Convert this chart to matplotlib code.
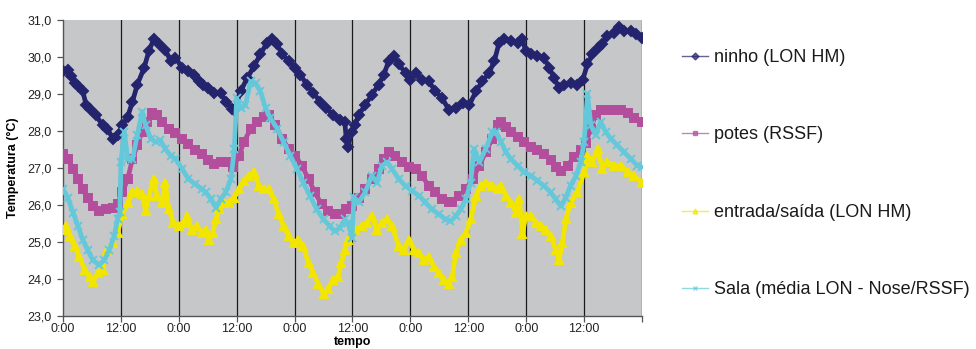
import matplotlib
matplotlib.use("Agg")
import matplotlib.pyplot as plt

plt.rcParams['font.family'] = ['Liberation Sans', 'DejaVu Sans']

# ---- data (hours since start, temperature in degC) ----
ninho_t = [0, 1.0, 1.7, 2.4, 3.1, 4.1, 4.8, 5.5, 6.8, 8.2, 9.2, 10.3, 11.3, 12.3, 13.4, 14.4, 15.4, 16.8,
           17.8, 18.8, 19.9, 21.2, 22.3, 23.3, 24.7, 26.0, 27.1, 28.1, 29.1, 30.0, 31.3, 32.7, 33.7, 35.1,
           35.5, 36.8, 38.2, 39.6, 40.9, 42.3, 43.3, 44.4, 45.4, 46.8, 48.1, 49.2, 50.5, 51.9, 53.3, 54.6,
           56.0, 57.4, 58.4, 58.7, 59.1, 59.8, 60.5, 61.3, 62.6, 64.0, 65.4, 66.5, 67.5, 68.5, 69.6, 71.0,
           72.0, 73.1, 74.4, 75.8, 77.2, 78.6, 80.0, 81.4, 82.8, 84.2, 85.6, 86.9, 88.3, 89.4, 90.4, 91.4,
           92.8, 94.2, 95.2, 95.9, 97.0, 98.3, 99.7, 100.8, 101.8, 102.8, 103.9, 105.2, 106.6, 107.7, 108.7,
           109.7, 110.8, 111.8, 112.8, 114.2, 115.2, 116.3, 117.7, 118.7, 120.0]
ninho_v = [29.61, 29.65, 29.48, 29.29, 29.20, 29.07, 28.70, 28.60, 28.43, 28.15, 28.06, 27.79, 27.88, 28.15,
           28.38, 28.79, 29.25, 29.70, 30.16, 30.48, 30.34, 30.20, 29.89, 29.98, 29.70, 29.61, 29.52, 29.34,
           29.25, 29.15, 29.02, 29.02, 28.79, 28.60, 28.56, 29.07, 29.43, 29.75, 30.07, 30.39, 30.48, 30.34,
           30.07, 29.89, 29.70, 29.52, 29.25, 29.02, 28.79, 28.61, 28.43, 28.29, 28.24, 27.79, 27.56, 27.97,
           28.15, 28.43, 28.70, 28.97, 29.25, 29.52, 29.89, 30.02, 29.80, 29.57, 29.38, 29.57, 29.38, 29.34,
           29.07, 28.88, 28.56, 28.61, 28.75, 28.70, 29.07, 29.34, 29.57, 29.89, 30.39, 30.48, 30.43, 30.39,
           30.48, 30.16, 30.07, 30.02, 29.98, 29.70, 29.43, 29.16, 29.25, 29.29, 29.25, 29.38, 29.80, 30.07,
           30.25, 30.34, 30.57, 30.66, 30.80, 30.71, 30.71, 30.62, 30.52]

potes_t = [0, 1.0, 2.1, 3.1, 4.1, 5.1, 6.2, 7.5, 8.9, 10.3, 11.3, 12.3, 13.4, 14.4, 15.4, 16.4, 17.5, 18.5,
           19.5, 20.5, 21.9, 23.3, 24.7, 26.0, 27.4, 28.8, 30.0, 31.3, 32.7, 34.1, 35.3, 36.5, 37.5, 38.9,
           40.2, 41.6, 42.6, 44.0, 45.4, 46.8, 48.1, 49.5, 50.9, 52.2, 53.6, 55.0, 56.3, 57.7, 58.7, 59.9,
           61.3, 62.6, 64.0, 65.4, 66.5, 67.5, 68.9, 70.3, 71.7, 73.1, 74.4, 75.8, 77.2, 78.6, 80.0, 80.7,
           82.1, 83.5, 84.9, 86.3, 87.6, 89.0, 90.1, 90.8, 91.8, 92.8, 94.2, 95.6, 97.0, 98.3, 99.7, 101.1,
           102.1, 103.2, 104.6, 105.9, 107.3, 108.3, 109.4, 110.4, 111.4, 112.8, 114.2, 115.6, 117.0, 118.3,
           120.0]
potes_v = [27.38, 27.24, 26.97, 26.69, 26.42, 26.19, 25.96, 25.83, 25.87, 25.92, 26.01, 26.33, 26.69, 27.24,
           27.61, 27.97, 28.24, 28.47, 28.43, 28.24, 28.06, 27.93, 27.79, 27.65, 27.47, 27.38, 27.22, 27.10,
           27.15, 27.15, 27.01, 27.33, 27.70, 28.06, 28.24, 28.38, 28.43, 28.15, 27.79, 27.51, 27.33, 27.06,
           26.69, 26.33, 26.01, 25.83, 25.76, 25.74, 25.87, 25.96, 26.19, 26.42, 26.69, 26.97, 27.24, 27.42,
           27.33, 27.15, 27.01, 26.97, 26.78, 26.51, 26.33, 26.15, 26.06, 26.06, 26.24, 26.42, 26.69, 27.06,
           27.42, 27.79, 28.15, 28.24, 28.10, 27.97, 27.84, 27.70, 27.56, 27.47, 27.38, 27.20, 27.01, 26.92,
           27.06, 27.29, 27.47, 27.66, 28.06, 28.43, 28.56, 28.56, 28.56, 28.56, 28.47, 28.34, 28.24]

entrada_t = [0, 0.7, 1.4, 2.4, 3.4, 4.5, 5.5, 6.2, 7.2, 8.2, 9.2, 10.3, 11.3, 12.3, 13.4, 14.4, 15.4, 16.4,
             17.1, 17.8, 18.8, 19.5, 20.5, 21.2, 21.9, 22.9, 24.0, 25.0, 25.7, 26.7, 27.7, 28.8, 29.6, 30.3,
             31.0, 31.7, 32.4, 33.4, 34.4, 35.5, 36.5, 37.5, 38.5, 39.6, 40.6, 41.6, 42.6, 43.7, 44.7, 45.7,
             46.8, 47.8, 48.8, 49.8, 50.9, 51.9, 52.9, 54.0, 55.0, 56.0, 57.0, 57.7, 58.4, 59.1, 60.1, 60.6,
             61.9, 63.0, 64.0, 65.1, 66.1, 67.2, 68.2, 69.6, 70.6, 71.7, 72.7, 73.8, 74.8, 75.8, 76.9, 77.9,
             79.0, 80.0, 80.7, 81.4, 82.4, 83.5, 84.5, 85.6, 86.6, 87.6, 89.0, 90.1, 90.8, 91.8, 92.8, 93.9,
             94.6, 95.2, 95.9, 97.0, 98.0, 99.0, 100.1, 101.1, 102.1, 102.8, 103.5, 104.2, 105.2, 106.6, 108.0,
             108.7, 109.7, 110.8, 111.8, 112.8, 114.2, 115.6, 117.0, 118.3, 120.0]
entrada_v = [25.32, 25.42, 25.14, 24.87, 24.59, 24.23, 24.05, 23.91, 24.14, 24.23, 24.78, 24.96, 25.23, 25.74,
             26.05, 26.33, 26.37, 26.28, 25.83, 26.24, 26.69, 26.24, 26.05, 26.60, 25.87, 25.51, 25.42, 25.51,
             25.69, 25.32, 25.42, 25.23, 25.32, 25.05, 25.23, 25.60, 25.87, 26.05, 26.05, 26.19, 26.42, 26.65,
             26.78, 26.88, 26.51, 26.42, 26.42, 26.15, 25.74, 25.42, 25.14, 24.96, 25.05, 24.87, 24.41, 24.14,
             23.86, 23.59, 23.73, 23.96, 24.05, 24.41, 24.78, 25.05, 25.32, 25.32, 25.42, 25.51, 25.69, 25.32,
             25.51, 25.60, 25.42, 24.87, 24.78, 25.05, 24.78, 24.69, 24.50, 24.59, 24.32, 24.14, 23.96, 23.86,
             24.05, 24.69, 25.05, 25.23, 25.60, 26.24, 26.51, 26.60, 26.51, 26.42, 26.51, 26.24, 26.05, 25.78,
             26.15, 25.20, 25.69, 25.69, 25.51, 25.42, 25.32, 25.14, 24.78, 24.50, 24.96, 25.60, 26.05, 26.33,
             26.88, 27.33, 27.15, 27.51, 26.97, 27.15, 27.06, 27.06, 26.88, 26.78, 26.60]

sala_t = [0, 1.0, 2.1, 3.1, 4.1, 5.1, 6.2, 7.5, 8.6, 9.6, 10.6, 11.3, 11.8, 12.0, 12.7, 13.4, 14.4, 15.4,
          16.4, 17.1, 18.2, 19.2, 20.2, 21.2, 22.3, 23.3, 24.7, 26.0, 27.4, 28.8, 29.6, 30.7, 31.7, 32.7,
          33.7, 34.8, 35.5, 36.0, 36.8, 37.8, 38.9, 39.9, 40.9, 42.0, 43.0, 44.4, 45.7, 47.1, 48.5, 49.8,
          51.2, 52.6, 54.0, 55.3, 56.3, 57.4, 58.4, 59.1, 59.9, 60.3, 61.3, 62.6, 64.0, 65.1, 66.1, 67.2,
          68.2, 69.6, 71.0, 72.4, 73.8, 75.1, 76.5, 77.9, 79.3, 80.3, 81.4, 82.4, 83.5, 84.5, 85.2, 86.3,
          87.6, 89.0, 89.7, 90.8, 91.8, 92.8, 94.2, 95.6, 97.0, 98.3, 99.7, 101.1, 102.1, 103.2, 104.2, 105.2,
          106.3, 107.3, 108.0, 108.7, 109.4, 110.4, 111.4, 112.5, 113.5, 114.9, 116.3, 117.7, 119.0, 120.0]
sala_v = [26.42, 26.19, 25.78, 25.42, 25.05, 24.78, 24.50, 24.37, 24.50, 24.78, 25.14, 25.60, 25.80, 27.15,
          27.97, 27.24, 27.24, 27.88, 28.52, 28.15, 27.79, 27.70, 27.74, 27.51, 27.33, 27.24, 26.97, 26.69,
          26.56, 26.42, 26.33, 26.15, 25.92, 26.15, 26.33, 26.69, 27.51, 28.88, 28.61, 28.70, 29.34, 29.29,
          29.07, 28.61, 28.34, 28.06, 27.70, 27.33, 26.97, 26.60, 26.24, 25.87, 25.60, 25.42, 25.28, 25.37,
          25.60, 25.50, 25.10, 26.20, 26.06, 26.33, 26.78, 26.60, 27.06, 27.15, 26.97, 26.69, 26.51, 26.37,
          26.24, 26.06, 25.87, 25.74, 25.60, 25.55, 25.69, 25.87, 26.15, 26.60, 27.51, 27.15, 27.51, 27.97,
          27.97, 27.70, 27.42, 27.24, 27.06, 26.88, 26.78, 26.65, 26.51, 26.33, 26.15, 25.96, 26.19, 26.51,
          26.78, 27.15, 27.70, 29.00, 28.15, 27.88, 28.24, 27.97, 27.79, 27.61, 27.42, 27.24, 27.06, 27.01]

labels = ["ninho (LON HM)", "potes (RSSF)", "entrada/saída (LON HM)", "Sala (média LON - Nose/RSSF)"]
x_tick_labels = ["0:00", "12:00", "0:00", "12:00", "0:00", "12:00", "0:00", "12:00", "0:00", "12:00"]
y_ticks = [23, 24, 25, 26, 27, 28, 29, 30, 31]

W, H = 976, 349
fig = plt.figure(figsize=(W / 100, H / 100), dpi=100)
ax = fig.add_axes([63 / W, 1 - 315.5 / H, 579 / W, 295.5 / H])
ax.set_facecolor('#C6C7C9')

col_ninho = '#23236E'
col_potes = '#B34E9C'
col_ent = '#F2E600'
col_sala = '#63C8DA'

series = [
    (ninho_t, ninho_v, col_ninho, 'D', 5.0),
    (potes_t, potes_v, col_potes, 's', 5.5),
    (entrada_t, entrada_v, col_ent, '^', 6.0),
    (sala_t, sala_v, col_sala, 'x', 5.5),
]
handles = []
for (t, v, c, m, ms), lab in zip(series, labels):
    ax.plot(t, v, color=c, lw=3.4, zorder=3, solid_joinstyle='round', solid_capstyle='round')
    ax.plot(t, v, color=c, lw=0, marker=m, ms=ms, mew=1.4, mec=c, mfc=c, zorder=3)
    h, = plt.plot([], [], color=c, lw=1.0, alpha=0.7, marker=m, ms=3.5, mfc=c, mec=c, label=lab)
    handles.append(h)

ax.set_xlim(0, 120)
ax.set_ylim(23, 31)
ax.set_xticks(list(range(0, 121, 12)))
ax.set_xticklabels(x_tick_labels + [""])
ax.set_yticks(y_ticks)
ax.set_yticklabels([f"{y:.1f}".replace('.', ',') for y in y_ticks])
for xv in range(12, 121, 12):
    ax.axvline(xv, color='#1A1A1A', lw=0.9, zorder=2)

for s in ['top', 'right']:
    ax.spines[s].set_visible(False)
for s in ['left', 'bottom']:
    ax.spines[s].set_color('#555555')
    ax.spines[s].set_linewidth(1.0)
ax.tick_params(axis='both', direction='out', length=4, width=0.9, color='#555555',
               labelsize=9, labelcolor='#222222')
ax.tick_params(axis='x', pad=1.5)
ax.tick_params(axis='y', pad=4)

ax.set_ylabel("Temperatura (°C)", fontsize=9, fontweight='bold', labelpad=6)
ax.set_xlabel("tempo", fontsize=9, fontweight='bold', labelpad=0.5)

leg = fig.legend(handles=handles, loc='upper left', bbox_to_anchor=(682 / W, 1 - 49 / H),
                 frameon=False, fontsize=13, labelspacing=3.35, handlelength=1.45,
                 handletextpad=0.35, borderpad=0, borderaxespad=0)
for txt in leg.get_texts():
    txt.set_color('#1A1A1A')

fig.savefig("out.png", dpi=100)
